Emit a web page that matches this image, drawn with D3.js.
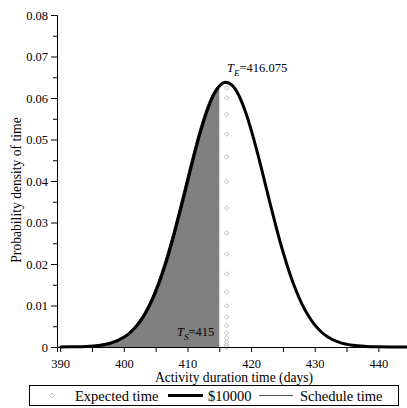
<!DOCTYPE html>
<html>
<head>
<meta charset="utf-8">
<script src="https://cdn.jsdelivr.net/npm/d3@7"></script>
<style>
  body { margin: 0; background: #fff; }
  text { font-family: "Liberation Serif", "Times New Roman", serif; }
</style>
</head>
<body>
<script>
const width = 407;
const height = 408;

// density curve
const days = [390, 392, 394, 396, 398, 400, 401, 402, 403, 404, 405, 406, 407, 408, 409, 410,
  411, 412, 413, 414, 415, 416, 417, 418, 419, 420, 421, 422, 423, 424, 425, 426, 427, 428,
  429, 430, 431, 432, 434, 436, 438, 440, 442, 445];
const density = [0.00002, 0.00005, 0.00013, 0.00037, 0.00097, 0.00234, 0.00348, 0.00505,
  0.00715, 0.00986, 0.01327, 0.01739, 0.02223, 0.02768, 0.03361, 0.03977, 0.04588, 0.05158,
  0.05653, 0.06038, 0.06286, 0.0638, 0.0631, 0.06085, 0.05718, 0.05237, 0.04677, 0.0407,
  0.03452, 0.02855, 0.02301, 0.01808, 0.01384, 0.01033, 0.00752, 0.00533, 0.00368, 0.00248,
  0.00104, 0.0004, 0.00014, 0.00004, 0.00001, 0];

// expected time markers
const expectedTime = 416.075;
const expectedDensity = [0.0624, 0.06, 0.0561, 0.0513, 0.0458, 0.0398, 0.0335, 0.0275, 0.0224,
  0.0176, 0.0133, 0.0099, 0.0072, 0.0051, 0.0034, 0.0022, 0.0012, 0.0005, 0];

const scheduleTime = 415;

const xTicks = [390, 400, 410, 420, 430, 440];
const yTicks = [0, 0.01, 0.02, 0.03, 0.04, 0.05, 0.06, 0.07, 0.08];

const legendLabels = ["Expected time", "$10000", "Schedule time"];

const svg = d3.select("body").append("svg")
  .attr("width", width)
  .attr("height", height);

const x = d3.scaleLinear().domain([389.5, 444.5]).range([57, 407]);
const y = d3.scaleLinear().domain([0, 0.08]).range([347, 15]);

const pts = days.map((d, i) => ({ x: d, y: density[i] }));

// shaded area up to the schedule time
const shaded = pts.filter(p => p.x <= scheduleTime);
svg.append("path")
  .datum(shaded)
  .attr("fill", "#808080")
  .attr("d", d3.area().x(d => x(d.x)).y0(y(0)).y1(d => y(d.y)).curve(d3.curveMonotoneX));

svg.append("path")
  .datum(pts.filter(p => p.x <= 416))
  .attr("fill", "none")
  .attr("stroke", "#222")
  .attr("stroke-width", 1)
  .attr("transform", "translate(-1.5,0)")
  .attr("d", d3.line().x(d => x(d.x)).y(d => y(d.y)).curve(d3.curveMonotoneX));

// main curve
svg.append("path")
  .datum(pts)
  .attr("fill", "none")
  .attr("stroke", "#000")
  .attr("stroke-width", 3)
  .attr("d", d3.line().x(d => x(d.x)).y(d => y(d.y)).curve(d3.curveMonotoneX));

// expected time diamonds
const diamond = d3.symbol().type(d3.symbolSquare).size(10);
svg.selectAll(".exp")
  .data(expectedDensity)
  .enter()
  .append("path")
  .attr("class", "exp")
  .attr("d", diamond)
  .attr("transform", d => `translate(${x(expectedTime) + 0.5},${y(d)}) rotate(45)`)
  .attr("fill", "#fff")
  .attr("stroke", "#b0b0b0")
  .attr("stroke-width", 0.8);

// axes
const xAxis = svg.append("g").attr("transform", `translate(0,${y(0)})`);
xAxis.call(d3.axisBottom(x).tickValues(d3.range(390, 445, 5)).tickSize(5)
  .tickFormat(d => xTicks.includes(d) ? d : ""));
const yAxis = svg.append("g").attr("transform", `translate(${x(389.5)},0)`);
yAxis.call(d3.axisLeft(y).tickValues(d3.range(0, 0.0801, 0.005)).tickSize(4)
  .tickFormat(d => yTicks.some(t => Math.abs(t - d) < 1e-9) ? (d === 0 ? "0" : d3.format(".2f")(d)) : ""));
yAxis.selectAll(".tick line").attr("x2", (d, i) => i % 2 === 0 ? -6 : -4);

[xAxis, yAxis].forEach(g => {
  g.select(".domain").attr("stroke", "#000");
  g.selectAll("text").attr("font-size", 12.5).attr("fill", "#000")
    .attr("font-family", "Liberation Serif");
});
xAxis.selectAll("text").attr("y", 12).attr("dy", "0.71em");
yAxis.selectAll("text").attr("x", -9);

// axis titles
svg.append("text")
  .attr("x", 234).attr("y", 382)
  .attr("text-anchor", "middle")
  .attr("font-size", 13.6)
  .text("Activity duration time (days)");
svg.append("text")
  .attr("transform", "translate(21,190) rotate(-90)")
  .attr("text-anchor", "middle")
  .attr("font-size", 13.6)
  .text("Probability density of time");

// annotations
const tE = svg.append("text").attr("x", x(expectedTime) + 1).attr("y", 72).attr("font-size", 12.5);
tE.append("tspan").attr("font-style", "italic").text("T");
tE.append("tspan").attr("font-style", "italic").attr("font-size", 9).attr("dy", 4).text("E");
tE.append("tspan").attr("dy", -4).text("=416.075");

const tS = svg.append("text").attr("x", 177).attr("y", 336).attr("font-size", 12.5);
tS.append("tspan").attr("font-style", "italic").text("T");
tS.append("tspan").attr("font-style", "italic").attr("font-size", 9).attr("dy", 4).text("S");
tS.append("tspan").attr("dy", -4).text("=415");

// legend
const lg = svg.append("g");
lg.append("rect")
  .attr("x", 29.5).attr("y", 385.5).attr("width", 369).attr("height", 20)
  .attr("fill", "#fff").attr("stroke", "#000");
lg.append("path").attr("d", diamond)
  .attr("transform", "translate(52,395.5) rotate(45)")
  .attr("fill", "#fff").attr("stroke", "#b0b0b0").attr("stroke-width", 0.8);
lg.selectAll(".lt")
  .data(legendLabels)
  .enter()
  .append("text")
  .attr("class", "lt")
  .attr("x", (d, i) => [75, 208, 300][i])
  .attr("y", 400.5)
  .attr("font-size", 14.5)
  .text(d => d);
lg.append("line").attr("x1", 168).attr("x2", 203).attr("y1", 395.5).attr("y2", 395.5)
  .attr("stroke", "#000").attr("stroke-width", 3);
lg.append("line").attr("x1", 259).attr("x2", 293).attr("y1", 395.5).attr("y2", 395.5)
  .attr("stroke", "#555").attr("stroke-width", 1);
</script>
</body>
</html>
